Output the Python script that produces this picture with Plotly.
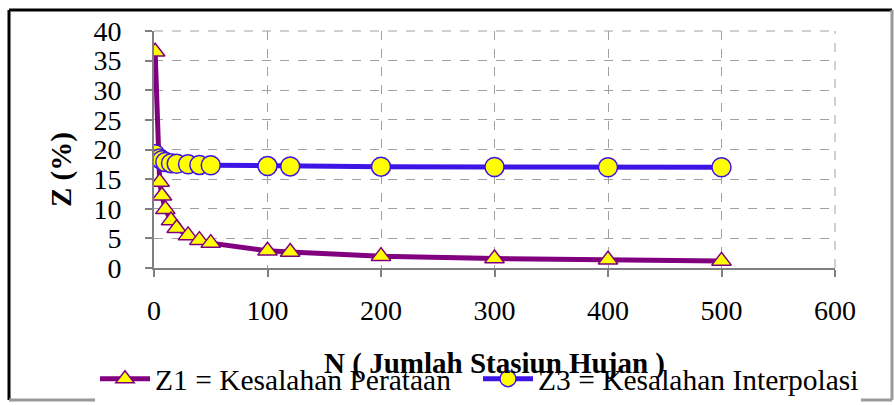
import plotly.graph_objects as go

n_values = [1, 5, 7, 10, 15, 20, 30, 40, 50, 100, 120, 200, 300, 400, 500]
z1_values = [36.5, 14.5, 12.2, 9.9, 8.0, 6.7, 5.5, 4.7, 4.2, 2.9, 2.7, 2.0, 1.6, 1.4, 1.2]
z3_values = [19.2, 18.5, 18.2, 17.9, 17.7, 17.6, 17.5, 17.4, 17.35, 17.2, 17.15, 17.1, 17.05, 17.0, 17.0]
y_ticks = [0, 5, 10, 15, 20, 25, 30, 35, 40]
x_ticks = [0, 100, 200, 300, 400, 500, 600]

FONT = "Liberation Serif"
W, H = 894, 405
L, R, T, B = 154, 835, 31, 268

fig = go.Figure()
fig.add_trace(go.Scatter(
    x=n_values, y=z1_values, mode="lines+markers",
    name="Z1 = Kesalahan Perataan",
    line=dict(color="#800080", width=5),
    marker=dict(symbol="triangle-up", size=17, color="#FFFF00",
                line=dict(color="#800080", width=1.5)),
))
fig.add_trace(go.Scatter(
    x=n_values, y=z3_values, mode="lines+markers",
    name="Z3 = Kesalahan Interpolasi",
    line=dict(color="#3C14E6", width=5),
    marker=dict(symbol="circle", size=19, color="#FFFF00",
                line=dict(color="#3C14E6", width=1.5)),
))

def px(x):
    return (x - L) / (R - L)

def py(y):
    return (B - y) / (B - T)

shapes = [
    dict(type="line", xref="paper", yref="paper", x0=px(9), x1=px(892), y0=py(10), y1=py(10),
         line=dict(color="black", width=3)),
    dict(type="line", xref="paper", yref="paper", x0=px(9), x1=px(9), y0=py(10), y1=py(400),
         line=dict(color="black", width=3)),
    dict(type="line", xref="paper", yref="paper", x0=px(9), x1=px(892), y0=py(400), y1=py(400),
         line=dict(color="#999999", width=3)),
    dict(type="line", xref="paper", yref="paper", x0=px(892), x1=px(892), y0=py(10), y1=py(400),
         line=dict(color="#999999", width=3)),
    dict(type="line", xref="paper", yref="paper", x0=0, x1=1, y0=1, y1=1,
         line=dict(color="#A0A0A0", width=1, dash="dash")),
    dict(type="line", xref="paper", yref="paper", x0=1, x1=1, y0=0, y1=1,
         line=dict(color="#A0A0A0", width=1, dash="dash")),
]

fig.update_layout(
    width=W, height=H,
    margin=dict(l=L, r=W - R, t=T, b=H - B, autoexpand=False),
    paper_bgcolor="white", plot_bgcolor="white",
    font=dict(family=FONT, size=28, color="black"),
    shapes=shapes,
    showlegend=True,
    legend=dict(orientation="h", x=px(95), xanchor="left", y=py(379), yanchor="middle",
                font=dict(family=FONT, size=29.5, color="black"),
                bgcolor="white", itemwidth=50, entrywidth=318, tracegroupgap=0),
    annotations=[dict(text="<b>Z (%)</b>", xref="paper", yref="paper",
                      x=px(61), y=py(170), xanchor="center", yanchor="middle",
                      textangle=-90, showarrow=False,
                      font=dict(family=FONT, size=29, color="black"))],
    xaxis=dict(
        range=[0, 600], tickvals=x_ticks, ticktext=[str(v) for v in x_ticks],
        showgrid=True, gridcolor="#A0A0A0", griddash="dash", gridwidth=1,
        showline=True, linecolor="#808080", linewidth=2,
        ticks="outside", ticklen=7, tickcolor="#808080", tickwidth=2,
        ticklabelstandoff=9, zeroline=False, automargin=False,
        tickfont=dict(family=FONT, size=28),
        title=dict(text="<b>N ( Jumlah Stasiun Hujan )</b>", font=dict(family=FONT, size=29), standoff=28),
    ),
    yaxis=dict(
        range=[0, 40], tickvals=y_ticks, ticktext=[str(v) for v in y_ticks],
        showgrid=True, gridcolor="#A0A0A0", griddash="dash", gridwidth=1,
        showline=True, linecolor="#808080", linewidth=2,
        ticks="outside", ticklen=7, tickcolor="#808080", tickwidth=2,
        ticklabelstandoff=18, zeroline=False, automargin=False,
        tickfont=dict(family=FONT, size=28),
    ),
)

fig.write_html("out.html")
